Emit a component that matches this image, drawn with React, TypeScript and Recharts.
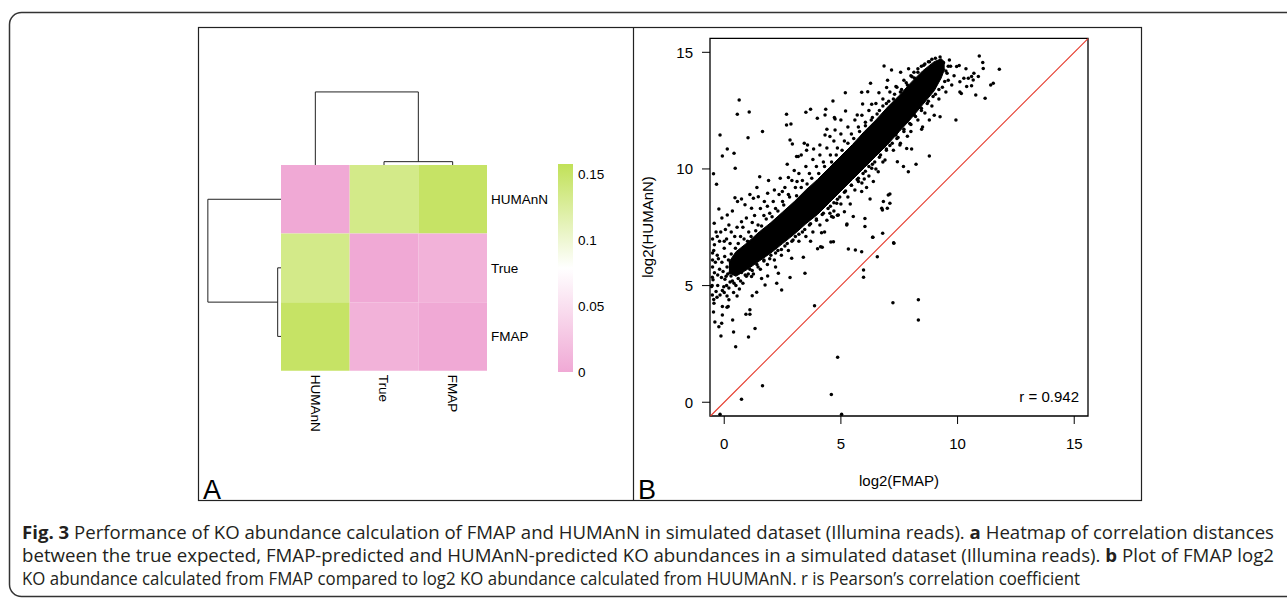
import React from 'react';
import {
  ComposedChart, BarChart, Bar, Scatter, Area, XAxis, YAxis, ReferenceArea, ReferenceLine,
} from 'recharts';

// ---- panel A: correlation-distance heatmap ----
const HM_NAMES = ['HUMAnN', 'True', 'FMAP'];
const HM_DIST = [
  [0, 0.135, 0.152],
  [0.135, 0, 0.008],
  [0.152, 0.008, 0],
];
// merge heights of the (symmetric) dendrogram, in distance units
const MERGE_SMALL = 0.0065; // True + FMAP
const MERGE_BIG = 0.143; // (True, FMAP) + HUMAnN
const LEGEND_TICKS = [0, 0.05, 0.1, 0.15];
const LEGEND_MAX = 0.158;
const COLOR_STOPS: [number, string][] = [[0, '#F0A9D5'], [0.079, '#FFFFFF'], [0.158, '#C1E158']];

// ---- panel B: log2(FMAP) vs log2(HUMAnN) ----
const AXIS_TICKS = [0, 5, 10, 15];
const R_VALUE = 0.942;
// solid core of the point cloud: [x, low y, high y]
const BAND_CORE: [number, number, number][] = [
  [0.2, 5.55, 6.0], [0.5, 5.4, 6.45], [1, 5.7, 6.85], [1.5, 6.05, 7.3],
  [2, 6.4, 7.7], [2.5, 6.8, 8.15], [3, 7.2, 8.6], [3.5, 7.65, 9.1], [4, 8.05, 9.55],
  [4.5, 8.55, 10.05], [5, 9.05, 10.55], [5.5, 9.55, 11.05], [6, 10.05, 11.6], [6.5, 10.55, 12.1],
  [7, 11.05, 12.65], [7.5, 11.6, 13.15], [8, 12.15, 13.7], [8.5, 12.75, 14.2], [9, 13.35, 14.6],
  [9.3, 13.9, 14.72], [9.45, 14.3, 14.58],
];
// points scattered around the core
const HALO: [number, number][] = [
  [-0.5, 6.1], [-0.45, 6.5], [-0.3, 6.3], [-0.5, 7.0], [-0.2, 6.9], [-0.35, 7.3], [0.0, 6.6], [0.1, 7.0],
  [0.25, 6.8], [0.3, 7.3], [0.45, 7.1], [0.55, 7.5], [0.2, 7.6], [-0.1, 7.9], [0.35, 8.2],
  [0.7, 7.1], [0.8, 7.5], [0.95, 7.9], [1.05, 7.3], [1.2, 7.7], [1.3, 8.0], [1.45, 7.6], [1.55, 8.3],
  [1.7, 8.0], [1.85, 8.4], [1.95, 8.1], [1.1, 8.9], [1.4, 9.2], [1.9, 9.5],
  [2.1, 8.6], [2.2, 8.3], [2.35, 8.9], [2.5, 8.6], [2.6, 9.2], [2.75, 8.9], [2.9, 9.5], [3.05, 9.2],
  [3.2, 9.8], [3.35, 9.5], [3.5, 10.1], [3.65, 9.8], [3.8, 10.4], [3.95, 10.1], [2.4, 9.6], [2.7, 10.2], [3.3, 10.6],
  [4.1, 10.6], [4.25, 10.3], [4.4, 10.9], [4.55, 10.6], [4.7, 11.2], [4.85, 10.9], [5.0, 11.5], [5.15, 11.2],
  [5.3, 11.8], [5.45, 11.5], [5.6, 12.1], [5.75, 11.8], [5.9, 12.3], [4.4, 11.7], [5.0, 12.1],
  [6.05, 12.0], [6.2, 12.5], [6.35, 12.2], [6.5, 12.8], [6.65, 12.5], [6.8, 13.0], [6.95, 12.8], [7.1, 13.3],
  [7.25, 13.0], [7.4, 13.5], [7.55, 13.3], [7.7, 13.8], [7.85, 13.6], [8.0, 14.0], [8.15, 13.9], [8.3, 14.3],
  [8.45, 14.4], [8.6, 14.5], [8.75, 14.6], [8.9, 14.7], [7.0, 13.8], [7.9, 14.3],
  [0.0, 4.7], [0.2, 4.9], [0.35, 5.2], [0.5, 5.0], [0.6, 5.3], [0.8, 5.1], [0.9, 5.45], [0.15, 5.5],
  [1.1, 5.7], [1.25, 5.5], [1.4, 5.9], [1.55, 5.7], [1.7, 6.1], [1.85, 5.9], [2.0, 6.3], [2.15, 6.1],
  [2.3, 6.5], [2.45, 6.3], [2.6, 6.7], [2.75, 6.5], [2.9, 6.9], [1.6, 5.3], [2.2, 5.8],
  [3.05, 7.1], [3.2, 6.9], [3.35, 7.3], [3.5, 7.1], [3.65, 7.6], [3.8, 7.3], [3.95, 7.8], [4.1, 7.6],
  [4.25, 8.1], [4.4, 7.8], [4.55, 8.4], [4.7, 8.2], [4.85, 8.7], [5.0, 8.5], [3.7, 6.9], [4.3, 7.3],
  [5.15, 9.0], [5.3, 8.8], [5.45, 9.3], [5.6, 9.1], [5.75, 9.6], [5.9, 9.4], [6.05, 9.9], [6.2, 9.7],
  [6.35, 10.2], [6.5, 10.0], [6.65, 10.5], [6.8, 10.3], [6.95, 10.8], [5.4, 8.5], [6.1, 9.2],
  [7.1, 11.0], [7.25, 10.8], [7.4, 11.3], [7.55, 11.1], [7.7, 11.6], [7.85, 11.4], [8.0, 11.9], [8.15, 12.3],
  [8.3, 12.1], [8.45, 12.6], [8.6, 12.4], [8.75, 12.9], [8.9, 12.7], [9.05, 13.2], [9.2, 13.0], [9.35, 13.5],
  [9.5, 13.3], [9.6, 13.8], [9.75, 13.6], [9.85, 14.0], [9.5, 14.2], [9.7, 14.4], [9.4, 14.55], [8.5, 11.8], [9.0, 12.3],
  // hugging the upper edge of the core
  [0.6, 6.8], [0.85, 7.0], [1.15, 7.1], [1.35, 7.35], [1.6, 7.55], [1.8, 7.85], [2.05, 7.95], [2.3, 8.2],
  [2.55, 8.45], [2.8, 8.8], [3.1, 8.85], [3.3, 9.2], [3.55, 9.35], [3.75, 9.6], [4.05, 9.8], [4.3, 10.1],
  [4.6, 10.3], [4.8, 10.6], [5.05, 10.8], [5.3, 11.1], [5.55, 11.3], [5.8, 11.6], [6.05, 11.85], [6.3, 12.1],
  [6.55, 12.35], [6.8, 12.7], [7.05, 12.9], [7.3, 13.2], [7.6, 13.4], [7.8, 13.7], [8.05, 13.95], [8.3, 14.15],
  [8.55, 14.45], [8.8, 14.6], [9.05, 14.75], [9.25, 14.8],
  // hugging the lower edge of the core
  [0.7, 5.2], [0.95, 5.4], [1.2, 5.65], [1.45, 5.8], [1.7, 6.05], [1.95, 6.15], [2.2, 6.4], [2.45, 6.55],
  [2.7, 6.8], [2.95, 6.95], [3.2, 7.2], [3.45, 7.4], [3.7, 7.65], [3.95, 7.85], [4.2, 8.05], [4.45, 8.3],
  [4.7, 8.55], [4.95, 8.8], [5.2, 9.05], [5.45, 9.3], [5.7, 9.55], [5.95, 9.8], [6.2, 10.1], [6.45, 10.3],
  [6.7, 10.6], [6.95, 10.85], [7.2, 11.1], [7.45, 11.35], [7.7, 11.7], [7.95, 11.95], [8.2, 12.25], [8.45, 12.5],
  [8.7, 12.8], [8.95, 13.1], [9.2, 13.4], [9.45, 13.75], [9.55, 14.1], [9.6, 14.4],
  // loose cloud at the low-abundance end
  [-0.52, 5.0], [-0.48, 5.25], [-0.42, 5.55], [-0.5, 5.8], [-0.38, 6.0], [-0.28, 5.45], [-0.2, 5.7], [-0.25, 6.15],
  [-0.12, 5.35], [-0.05, 5.6], [-0.1, 6.0], [0.02, 6.25], [0.08, 5.4], [0.12, 5.8], [0.18, 6.1], [0.25, 5.55],
  [0.3, 6.35], [0.38, 5.75], [0.42, 6.0], [0.48, 6.6], [0.55, 5.6], [0.62, 6.15], [0.7, 6.45], [0.78, 5.8],
  [0.85, 6.6], [0.92, 6.2], [1.0, 6.9], [1.08, 6.0], [1.15, 6.5], [-0.45, 4.4], [-0.35, 4.75], [-0.18, 4.6],
  [-0.02, 4.95], [0.12, 4.55], [0.25, 5.15], [0.4, 4.7], [0.55, 4.55], [0.65, 4.85], [-0.5, 6.4], [-0.42, 6.75],
  [-0.3, 7.1], [-0.15, 7.3], [0.05, 7.4], [0.0, 6.9],
];
// isolated points, read one by one
const OUTLIERS: [number, number][] = [
  [10.93, 14.84], [11.08, 14.56], [11.79, 14.27], [11.1, 14.31], [11.53, 13.67], [11.42, 13.6], [11.18, 13.03],
  [10.78, 13.17], [10.89, 13.96], [10.46, 13.89], [10.7, 14.1], [10.39, 13.53], [9.93, 12.1], [10.1, 13.3],
  [9.96, 14.39], [10.36, 14.29], [10.6, 13.96], [10.67, 13.81], [10.6, 13.57], [10.16, 13.23], [10.07, 14.43],
  [9.65, 14.67], [10.27, 13.89], [10.1, 13.74],
  [6.85, 14.41], [7.17, 14.24], [7.56, 14.14], [8.13, 14.14], [6.27, 13.67], [5.89, 13.29], [5.19, 13.27],
  [4.66, 12.91], [2.67, 12.34], [3.5, 12.43], [3.7, 12.56], [3.99, 12.17], [4.35, 12.56], [5.2, 12.48],
  [5.7, 12.31], [0.64, 12.96], [0.56, 12.34], [1.07, 12.44], [2.67, 11.88], [2.86, 11.93], [1.64, 11.6],
  [1.02, 11.34], [-0.18, 11.45], [-0.08, 10.56], [0.13, 10.86], [0.42, 10.67], [0.47, 10.03], [-0.46, 9.79],
  [-0.33, 9.34], [1.52, 9.67], [2.82, 11.24], [3.1, 10.53], [4.75, 12.14], [6.32, 12.77], [7.36, 13.53],
  [6.63, 13.27], [6.15, 13.31], [5.93, 12.78], [4.72, 12.2], [4.32, 12.31], [2.92, 11.07], [3.0, 9.93],
  [2.75, 9.63], [3.43, 11.1], [3.57, 11.03], [3.53, 10.8], [3.83, 10.86], [4.1, 11.03], [4.32, 11.46],
  [4.53, 11.39], [4.75, 11.67], [3.17, 10.53], [3.12, 9.46], [2.49, 9.03], [2.15, 9.1], [1.86, 8.96],
  [1.46, 8.81], [1.25, 8.74], [0.74, 8.71], [0.46, 8.77], [0.57, 8.6], [0.89, 8.46], [1.17, 8.31],
  [1.72, 8.6], [-0.23, 8.28], [0.13, 8.03], [-0.43, 7.67], [0.74, 7.74], [6.96, 13.49],
  [8.79, 10.55], [8.22, 10.2], [7.89, 9.88], [7.42, 10.31], [7.68, 10.1], [7.03, 8.88], [7.1, 8.93],
  [6.82, 8.6], [6.75, 8.31], [7.26, 6.84], [6.56, 6.24], [6.79, 7.24], [6.37, 7.07], [5.32, 6.57],
  [5.62, 6.53], [5.89, 6.45], [5.26, 7.64], [4.68, 6.88], [4.13, 6.67], [4.0, 6.58], [3.39, 6.21],
  [2.89, 6.17], [2.32, 5.53], [2.82, 5.35], [1.86, 5.41], [4.67, 7.93], [4.85, 8.01], [4.53, 8.1],
  [4.17, 8.44], [3.63, 8.05], [5.97, 5.67], [5.97, 5.36], [3.46, 5.53], [3.87, 4.14], [7.23, 4.26],
  [8.32, 4.39], [8.32, 3.53], [4.86, 1.93], [4.59, 0.33], [5.03, -0.52], [1.64, 0.71], [0.74, 0.13],
  [-0.18, -0.52], [2.46, 4.81], [2.25, 5.1], [1.75, 5.03], [1.39, 4.71], [1.2, 4.56], [1.32, 3.16],
  [1.1, 3.96], [1.1, 3.77], [0.93, 3.77], [1.04, 2.8], [0.49, 2.38], [0.4, 3.01], [0.36, 3.53],
  [0.17, 4.1], [0.12, 4.07], [0.2, 4.39], [-0.08, 4.1], [-0.08, 3.74], [-0.11, 3.39], [-0.23, 3.24],
  [-0.14, 2.84], [-0.4, 3.44], [-0.46, 3.87], [-0.44, 4.24], [-0.51, 4.6], [-0.31, 4.5], [-0.08, 4.79],
  [0.1, 5.0], [0.42, 5.1], [-0.28, 5.0], [-0.54, 4.96], [-0.51, 5.36], [0.03, 5.27], [0.29, 5.41],
  [0.74, 5.56], [1.03, 5.5], [1.17, 5.39], [5.25, 7.6], [6.03, 7.53], [6.36, 7.07], [4.17, 7.27],
  [4.57, 6.87], [4.2, 6.64], [7.27, 6.81], [8.46, 11.7], [8.0, 11.6], [7.82, 10.88], [8.03, 10.86],
  [7.53, 11.03], [7.36, 11.46], [9.25, 12.24], [8.79, 12.1], [6.6, 9.88], [6.89, 10.38], [6.25, 8.71],
  [5.89, 9.03], [5.75, 9.46], [6.0, 9.57], [7.1, 8.53], [6.99, 8.31], [6.78, 8.24], [6.32, 10.03],
  [6.39, 9.46], [6.46, 10.67], [4.6, 7.96], [4.89, 8.03], [5.53, 7.96], [6.03, 7.88], [5.15, 8.17], [4.82, 8.53],
];

const CAPTION_1 = ['Fig. 3', ' Performance of KO abundance calculation of FMAP and HUMAnN in simulated dataset (Illumina reads). ', 'a', ' Heatmap of correlation distances'];
const CAPTION_2 = ['between the true expected, FMAP-predicted and HUMAnN-predicted KO abundances in a simulated dataset (Illumina reads). ', 'b', ' Plot of FMAP log2'];
const CAPTION_3 = 'KO abundance calculated from FMAP compared to log2 KO abundance calculated from HUUMAnN. r is Pearson\u2019s correlation coefficient';

const PLOT_FONT = '"Liberation Sans", Arial, Helvetica, sans-serif';
const CAP_FONT = '"Open Sans", "Noto Sans", sans-serif';

function rgb(c: string) {
  return [1, 3, 5].map((i) => parseInt(c.slice(i, i + 2), 16));
}
function colorAt(v: number) {
  for (let i = 1; i < COLOR_STOPS.length; i++) {
    const [v0, c0] = COLOR_STOPS[i - 1];
    const [v1, c1] = COLOR_STOPS[i];
    if (v <= v1) {
      const t = (v - v0) / (v1 - v0);
      const a = rgb(c0), b = rgb(c1);
      return `rgb(${a.map((x, j) => Math.round(x + (b[j] - x) * t)).join(',')})`;
    }
  }
  return COLOR_STOPS[COLOR_STOPS.length - 1][1];
}

// dendrogram heights -> heatmap cell units
const DENDRO_UNITS = 7.45;
const hS = MERGE_SMALL * DENDRO_UNITS;
const hB = MERGE_BIG * DENDRO_UNITS;
type Pt = { x: number; y: number };
const COL_DENDRO: [Pt, Pt][] = [
  [{ x: 1.5, y: 3 }, { x: 1.5, y: 3 + hS }], [{ x: 2.5, y: 3 }, { x: 2.5, y: 3 + hS }],
  [{ x: 1.5, y: 3 + hS }, { x: 2.5, y: 3 + hS }], [{ x: 2, y: 3 + hS }, { x: 2, y: 3 + hB }],
  [{ x: 0.5, y: 3 }, { x: 0.5, y: 3 + hB }], [{ x: 0.5, y: 3 + hB }, { x: 2, y: 3 + hB }],
];
const ROW_DENDRO: [Pt, Pt][] = [
  [{ x: 0, y: 1.5 }, { x: -hS, y: 1.5 }], [{ x: 0, y: 0.5 }, { x: -hS, y: 0.5 }],
  [{ x: -hS, y: 0.5 }, { x: -hS, y: 1.5 }], [{ x: -hS, y: 1 }, { x: -hB, y: 1 }],
  [{ x: 0, y: 2.5 }, { x: -hB, y: 2.5 }], [{ x: -hB, y: 1 }, { x: -hB, y: 2.5 }],
];

const cells = HM_DIST.flatMap((row, i) => row.map((d, j) => ({ x: j + 0.5, y: 2.5 - i, d })));

const ColTick = (p: any) => (
  <text x={p.x} y={p.y} transform={`rotate(90, ${p.x}, ${p.y})`} dy="0.35em" textAnchor="start"
    fontSize={13.5} fontFamily={PLOT_FONT} fill="#000">
    {HM_NAMES[Math.round(p.payload.value - 0.5)]}
  </text>
);

function Heatmap() {
  return (
    <ComposedChart width={435} height={474} data={cells}
      margin={{ top: 55.7, right: 0, bottom: 0, left: 0.6 }}>
      <XAxis type="number" dataKey="x" domain={[-1.2, 3]} ticks={[0.5, 1.5, 2.5]} allowDataOverflow
        axisLine={false} tickLine={false} tickSize={0} tickMargin={4} height={130.3} tick={<ColTick />} interval={0} />
      <YAxis type="number" orientation="right" domain={[0, 4.2]} ticks={[0.5, 1.5, 2.5]} allowDataOverflow
        axisLine={false} tickLine={false} tickSize={0} tickMargin={4} width={146} interval={0}
        tickFormatter={(v: number) => HM_NAMES[Math.round(2.5 - v)]}
        tick={{ fontSize: 13.5, fontFamily: PLOT_FONT, fill: '#000', textAnchor: 'start' }} />
      {cells.map((c, k) => (
        <ReferenceArea key={k} x1={c.x - 0.5} x2={c.x + 0.5} y1={c.y - 0.5} y2={c.y + 0.5}
          fill={colorAt(c.d)} fillOpacity={1} stroke="none" />
      ))}
      {[...COL_DENDRO, ...ROW_DENDRO].map((s, k) => (
        <ReferenceLine key={`d${k}`} segment={s} stroke="#222" strokeWidth={1} />
      ))}
      <Scatter dataKey="y" isAnimationActive={false} shape={() => <g />} />
    </ComposedChart>
  );
}

function ColorKey() {
  return (
    <BarChart width={65} height={228} data={[{ k: 'key', v: LEGEND_MAX }]} barCategoryGap={0}
      margin={{ top: 10, right: 0, bottom: 10, left: 0 }}>
      <defs>
        <linearGradient id="keyGrad" x1="0" y1="1" x2="0" y2="0">
          {COLOR_STOPS.map(([v, c]) => <stop key={v} offset={v / LEGEND_MAX} stopColor={c} />)}
        </linearGradient>
      </defs>
      <XAxis dataKey="k" hide />
      <YAxis orientation="right" domain={[0, LEGEND_MAX]} ticks={LEGEND_TICKS} width={50} allowDataOverflow
        axisLine={false} tickLine={false} tickSize={0} tickMargin={5} interval={0}
        tickFormatter={(v: number) => String(v)}
        tick={{ fontSize: 13.5, fontFamily: PLOT_FONT, fill: '#000' }} />
      <Bar dataKey="v" fill="url(#keyGrad)" isAnimationActive={false} />
    </BarChart>
  );
}

const Dot = (p: any) => <circle cx={p.cx} cy={p.cy} r={1.75} fill="#000" />;

function ScatterPanel() {
  const band = BAND_CORE.map(([x, lo, hi]) => ({ x, band: [lo, hi] }));
  const halo = HALO.map(([x, y]) => ({ x, y }));
  const outl = OUTLIERS.map(([x, y]) => ({ x, y }));
  const tick = { fontSize: 15, fontFamily: PLOT_FONT, fill: '#000' };
  return (
    <ComposedChart width={509} height={474} data={band}
      margin={{ top: 11.3, right: 54, bottom: 0, left: 0 }}>
      <XAxis type="number" dataKey="x" domain={[-0.61, 15.59]} ticks={AXIS_TICKS} allowDataOverflow
        axisLine={false} tickSize={8} tickMargin={14} height={85} tick={tick}
        tickLine={{ stroke: '#000', strokeWidth: 1 }} interval={0} />
      <YAxis type="number" domain={[-0.59, 15.6]} ticks={AXIS_TICKS} allowDataOverflow
        axisLine={false} tickSize={8} tickMargin={9} width={77} tick={tick}
        tickLine={{ stroke: '#000', strokeWidth: 1 }} interval={0} />
      <Area dataKey="band" type="linear" fill="#000" fillOpacity={1} stroke="#000" strokeWidth={1}
        isAnimationActive={false} dot={false} activeDot={false} />
      <Scatter data={halo} dataKey="y" shape={Dot} isAnimationActive={false} />
      <Scatter data={outl} dataKey="y" shape={Dot} isAnimationActive={false} />
      <ReferenceLine segment={[{ x: -0.59, y: -0.59 }, { x: 15.59, y: 15.59 }]} stroke="#E5392B" strokeWidth={1.1} />
      <ReferenceArea x1={-0.61} x2={15.59} y1={-0.59} y2={15.6} fill="none" stroke="#000" strokeWidth={1.3} />
    </ComposedChart>
  );
}

export default function App() {
  const capProps = { fontFamily: CAP_FONT, fontSize: 18, fill: '#231F20', lengthAdjust: 'spacingAndGlyphs' as const };
  return (
    <div style={{ position: 'absolute', left: 0, top: 0, width: 1287, height: 601, background: '#fff', overflow: 'hidden' }}>
      <svg width={1287} height={601} style={{ position: 'absolute', left: 0, top: 0 }}>
        <rect x={9.5} y={12.5} width={1300} height={584} rx={12} fill="none" stroke="#333" strokeWidth={1.5} />
        <rect x={198.5} y={27.5} width={943} height={473} fill="none" stroke="#222" strokeWidth={1.2} />
        <line x1={633.5} y1={27.5} x2={633.5} y2={500.5} stroke="#222" strokeWidth={1.2} />
        <text x={203} y={499} fontSize={27} fontFamily={PLOT_FONT} fill="#000">A</text>
        <text x={638} y={499} fontSize={27} fontFamily={PLOT_FONT} fill="#000">B</text>
        <text x={648} y={227} transform="rotate(-90, 648, 227)" textAnchor="middle" dy="0.35em"
          fontSize={15} fontFamily={PLOT_FONT} fill="#000">log2(HUMAnN)</text>
        <text x={899} y={486} textAnchor="middle" fontSize={15} fontFamily={PLOT_FONT} fill="#000">log2(FMAP)</text>
        <text x={1079} y={402} textAnchor="end" fontSize={15} fontFamily={PLOT_FONT} fill="#000">r = {R_VALUE}</text>
        <text x={22} y={539} textLength={1252} {...capProps}>
          <tspan fontWeight="bold">{CAPTION_1[0]}</tspan>{CAPTION_1[1]}
          <tspan fontWeight="bold">{CAPTION_1[2]}</tspan>{CAPTION_1[3]}
        </text>
        <text x={22} y={562} textLength={1252} {...capProps}>
          {CAPTION_2[0]}<tspan fontWeight="bold">{CAPTION_2[1]}</tspan>{CAPTION_2[2]}
        </text>
        <text x={22} y={585} textLength={1058} {...capProps}>{CAPTION_3}</text>
      </svg>
      <div style={{ position: 'absolute', left: 198, top: 27 }}><Heatmap /></div>
      <div style={{ position: 'absolute', left: 558, top: 154 }}><ColorKey /></div>
      <div style={{ position: 'absolute', left: 633, top: 27 }}><ScatterPanel /></div>
    </div>
  );
}
